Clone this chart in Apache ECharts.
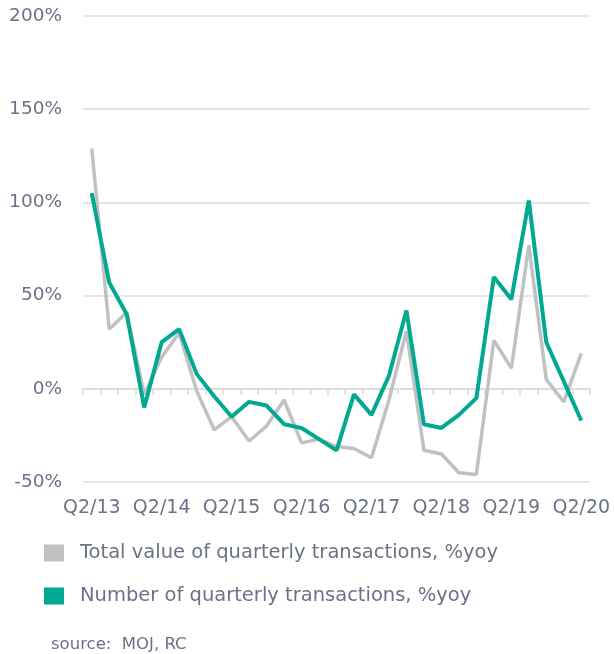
<!DOCTYPE html>
<html>
<head>
<meta charset="utf-8">
<title>Transactions yoy</title>
<script src="https://cdn.jsdelivr.net/npm/echarts@6/dist/echarts.min.js"></script>
<style>
  html, body { margin: 0; padding: 0; background: #fff; }
  #chart { width: 614px; height: 654px; }
</style>
</head>
<body>
<div id="chart"></div>
<script>
// quarters Q2/13 .. Q2/20
const quarters = [
  "Q2/13", "Q3/13", "Q4/13", "Q1/14",
  "Q2/14", "Q3/14", "Q4/14", "Q1/15",
  "Q2/15", "Q3/15", "Q4/15", "Q1/16",
  "Q2/16", "Q3/16", "Q4/16", "Q1/17",
  "Q2/17", "Q3/17", "Q4/17", "Q1/18",
  "Q2/18", "Q3/18", "Q4/18", "Q1/19",
  "Q2/19", "Q3/19", "Q4/19", "Q1/20",
  "Q2/20"
];
// total value of quarterly transactions, %yoy
const valueYoy = [129, 32, 41, -3, 17, 30, -1, -22, -15, -28, -20, -6, -29, -27, -31, -32, -37, -6, 31, -33, -35, -45, -46, 26, 11, 77, 5, -7, 19];
// number of quarterly transactions, %yoy
const countYoy = [105, 57, 40, -10, 25, 32, 8, -4, -15, -7, -9, -19, -21, -27, -33, -3, -14, 7, 42, -19, -21, -14, -5, 60, 48, 101, 25, 4, -17];
const yTicks = [-50, 0, 50, 100, 150, 200];

const seriesNames = [
  "Total value of quarterly transactions, %yoy",
  "Number of quarterly transactions, %yoy"
];
const textColor = "#6b7189";
const font = "DejaVu Sans";

let myChart = echarts.init(document.getElementById("chart"));

let option = {
  animation: false,
  color: ["#c1c1c1", "#00a98f"],
  title: {
    text: "source:  MOJ, RC",
    left: 51,
    top: 636,
    padding: 0,
    textStyle: { fontSize: 16.5, fontWeight: "normal", color: textColor, fontFamily: font }
  },
  legend: {
    orient: "vertical",
    left: 44,
    top: 543,
    padding: 0,
    itemWidth: 20,
    itemHeight: 17,
    itemGap: 23,
    icon: "rect",
    data: seriesNames,
    textStyle: { fontSize: 19.5, color: textColor, fontFamily: font, padding: [0, 0, 0, 11] }
  },
  grid: { left: 83, right: 24, top: 16, bottom: 172, containLabel: false },
  xAxis: [
    {
      // labels at the bottom
      type: "category",
      data: quarters,
      position: "bottom",
      boundaryGap: true,
      axisLine: { show: false, onZero: false },
      axisTick: { show: false },
      axisLabel: {
        interval: 3,
        color: textColor,
        fontSize: 19,
        fontFamily: font,
        margin: 17
      }
    },
    {
      // axis line with ticks sitting on 0%
      type: "category",
      data: quarters,
      position: "bottom",
      boundaryGap: true,
      axisLine: { show: true, onZero: true, lineStyle: { color: "#d9d9d9", width: 1.5 } },
      axisTick: { show: true, interval: 0, length: 6, lineStyle: { color: "#d9d9d9", width: 1.5 } },
      axisLabel: { show: false }
    }
  ],
  yAxis: {
    type: "value",
    min: yTicks[0],
    max: yTicks[yTicks.length - 1],
    interval: 50,
    axisLine: { show: false },
    axisTick: { show: false },
    splitLine: { lineStyle: { color: "#dedede", width: 1.5 } },
    axisLabel: {
      formatter: "{value}%",
      color: textColor,
      fontSize: 18.5,
      fontFamily: font,
      margin: 21
    }
  },
  series: [
    {
      name: seriesNames[0],
      type: "line",
      data: valueYoy,
      symbol: "none",
      lineStyle: { width: 3.5, color: "#c1c1c1" },
      z: 2
    },
    {
      name: seriesNames[1],
      type: "line",
      data: countYoy,
      symbol: "none",
      lineStyle: { width: 4, color: "#00a98f" },
      z: 3
    }
  ]
};

myChart.setOption(option);
</script>
</body>
</html>
